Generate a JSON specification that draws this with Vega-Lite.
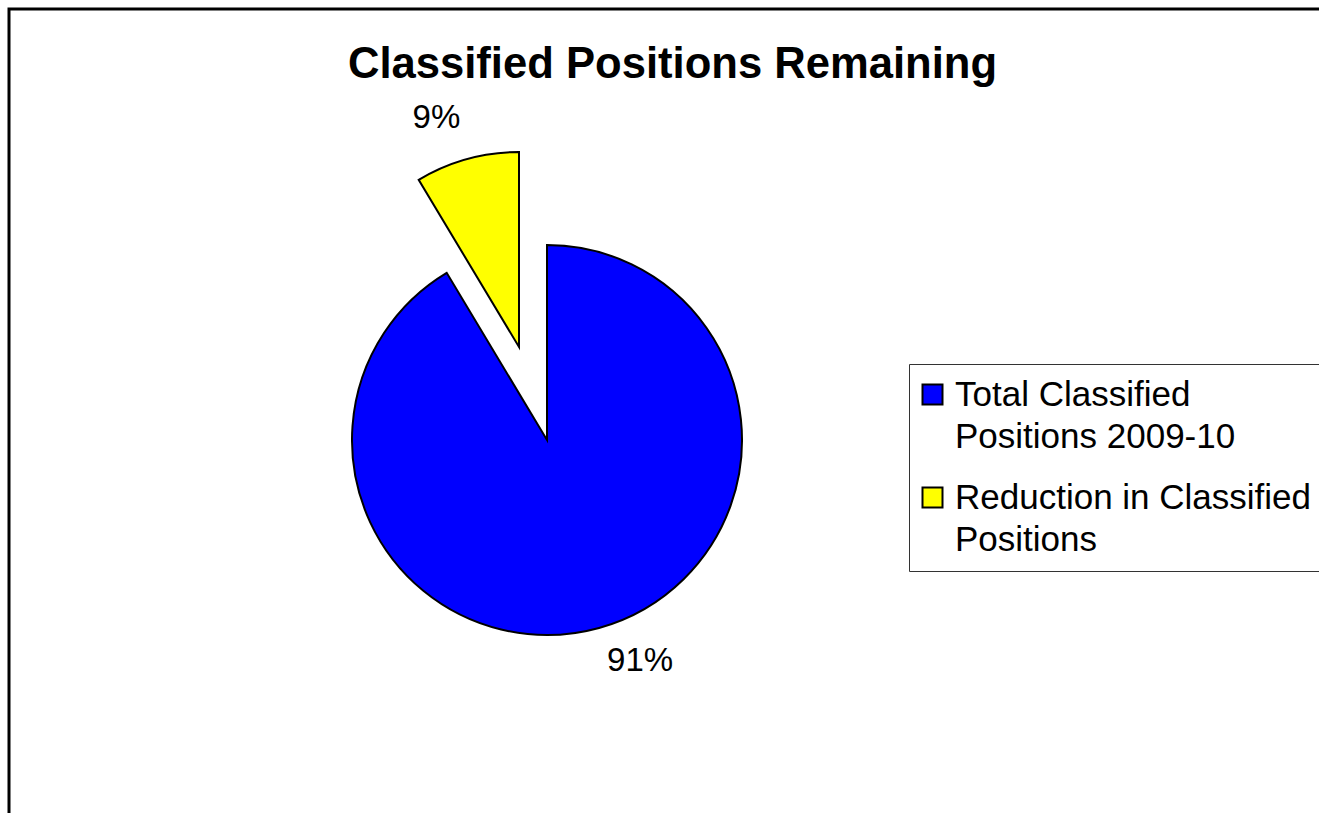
{
  "$schema": "https://vega.github.io/schema/vega-lite/v6.json",
  "autosize": {"type": "none"},
  "padding": {"left": 9, "top": 9, "right": 0, "bottom": 0},
  "width": 1327,
  "height": 862,
  "background": "white",
  "view": {"stroke": "black", "strokeWidth": 3, "fill": "white"},
  "config": {
    "view": {"stroke": "black", "strokeWidth": 3},
    "font": "Liberation Sans"
  },
  "title": {
    "text": "Classified Positions Remaining",
    "font": "Liberation Sans",
    "fontSize": 43.6,
    "fontWeight": "bold",
    "color": "black",
    "anchor": "middle",
    "frame": "group",
    "offset": -79
  },
  "data": {
    "values": [
      {"category": "Total Classified Positions 2009-10", "share": 0.914, "ord": 1},
      {"category": "Reduction in Classified Positions", "share": 0.086, "ord": 2}
    ]
  },
  "encoding": {
    "theta": {"field": "share", "type": "quantitative", "stack": true},
    "order": {"field": "ord", "type": "quantitative"}
  },
  "layer": [
    {
      "mark": {"type": "arc", "radius": 195, "stroke": "black", "strokeWidth": 2, "xOffset": -125.5},
      "encoding": {
        "color": {
          "field": "category",
          "type": "nominal",
          "scale": {
            "domain": ["Total Classified Positions 2009-10", "Reduction in Classified Positions"],
            "range": ["#0000FF", "#FFFF00"]
          },
          "legend": {
            "title": null,
            "orient": "none",
            "legendX": 900,
            "legendY": 355,
            "padding": 13,
            "strokeColor": "#333333",
            "fillColor": "white",
            "symbolType": "square",
            "symbolSize": 400,
            "symbolStrokeColor": "black",
            "symbolStrokeWidth": 2,
            "symbolOpacity": 1,
            "symbolOffset": -7,
            "labelFont": "Liberation Sans",
            "labelFontSize": 35,
            "labelColor": "black",
            "labelLimit": 600,
            "labelOffset": 5,
            "labelBaseline": "middle",
            "rowPadding": 25,
            "labelExpr": "datum.label == 'Total Classified Positions 2009-10' ? ['Total Classified', 'Positions 2009-10'] : ['Reduction in Classified', 'Positions']",
            "encode": {"labels": {"update": {"lineHeight": {"value": 42}}}}
          }
        },
        "opacity": {"condition": {"test": "datum.ord == 1", "value": 1}, "value": 0}
      }
    },
    {
      "mark": {"type": "arc", "radius": 195, "stroke": "black", "strokeWidth": 2, "xOffset": -153.5, "yOffset": -93},
      "encoding": {
        "color": {"field": "category", "type": "nominal"},
        "opacity": {"condition": {"test": "datum.ord == 2", "value": 1}, "value": 0}
      }
    },
    {
      "mark": {"type": "text", "radius": 229, "xOffset": -93.5, "fontSize": 33, "font": "Liberation Sans", "color": "black", "baseline": "middle", "align": "center"},
      "encoding": {
        "text": {"field": "share", "type": "quantitative", "format": ".0%"},
        "opacity": {"condition": {"test": "datum.ord == 1", "value": 1}, "value": 0}
      }
    },
    {
      "mark": {"type": "text", "radius": 229, "xOffset": -175, "yOffset": -101, "fontSize": 33, "font": "Liberation Sans", "color": "black", "baseline": "middle", "align": "center"},
      "encoding": {
        "text": {"field": "share", "type": "quantitative", "format": ".0%"},
        "opacity": {"condition": {"test": "datum.ord == 2", "value": 1}, "value": 0}
      }
    }
  ]
}
